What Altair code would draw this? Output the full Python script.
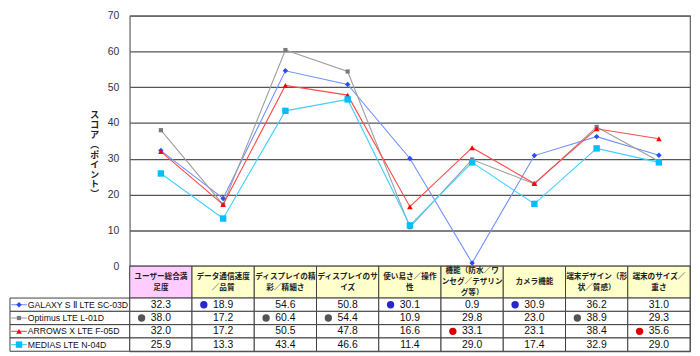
import altair as alt
import pandas as pd

# ---------------- data ----------------
categories = [
    "ユーザー総合満\n足度",
    "データ通信速度\n／品質",
    "ディスプレイの精\n彩／精細さ",
    "ディスプレイのサ\nイズ",
    "使い易さ／操作\n性",
    "機能（防水／ワ\nンセグ／テザリン\nグ等）",
    "カメラ機能",
    "端末デザイン（形\n状／質感）",
    "端末のサイズ／\n重さ",
]
series = ["GALAXY S Ⅱ LTE SC-03D", "Optimus LTE L-01D", "ARROWS X LTE F-05D", "MEDIAS LTE N-04D"]
galaxy = [32.3, 18.9, 54.6, 50.8, 30.1, 0.9, 30.9, 36.2, 31.0]
optimus = [38.0, 17.2, 60.4, 54.4, 10.9, 29.8, 23.0, 38.9, 29.3]
arrows = [32.0, 17.2, 50.5, 47.8, 16.6, 33.1, 23.1, 38.4, 35.6]
medias = [25.9, 13.3, 43.4, 46.6, 11.4, 29.0, 17.4, 32.9, 29.0]
values = [galaxy, optimus, arrows, medias]
# highlighted cells (series index, category index)
dot_series = [0, 0, 0, 1, 1, 1, 1, 2, 2]
dot_cats = [1, 4, 6, 0, 2, 3, 7, 5, 8]
y_ticks = [0, 10, 20, 30, 40, 50, 60, 70]
y_title = ["ス", "コ", "ア", "︵", "ポ", "イ", "ン", "ト", "︶"]

# ---------------- styles ----------------
line_colors = ["#7090FF", "#A0A0A0", "#FF4A4A", "#40CFFF"]
mark_colors = ["#2A4BFF", "#7A7A7A", "#FF0000", "#00BFFF"]
shapes = ["diamond", "square", "triangle-up", "square"]
sizes = [30, 18, 32, 42]
dot_colors = ["#2626CC", "#555555", "#D80000"]
header_fill = ["#FFCCFF"] + ["#FFFFCC"] * 8
JP = "Noto Sans CJK JP"
NUM = "Liberation Sans"

W = 566
TOP_H = 253
BOT_H = 86
HEAD = 2.4
ROW_PX = BOT_H / (HEAD + 4)
LEG_L = -1.924
HEAD_LH = 11.0  # header line height in px

xs = alt.Scale(domain=[0, 9], nice=False, zero=False)
ys_top = alt.Scale(domain=[0, 70], nice=False, zero=False)
ys_bot = alt.Scale(domain=[0, HEAD + 4], nice=False, zero=False, reverse=True)

rows = []
for s, name in enumerate(series):
    for i, v in enumerate(values[s]):
        rows.append({"series": name, "s": s, "i": i, "x": i + 0.5, "value": v,
                     "label": f"{v:.1f}", "ty": HEAD + s + 0.5,
                     "y0": HEAD + s, "y1": HEAD + s + 1, "x0": i, "x1": i + 1})
df = pd.DataFrame(rows)

# ---------------- top line chart ----------------
axis_y = alt.Axis(values=y_ticks, grid=True, gridColor="#555555", gridWidth=1.3,
                  domain=False, ticks=False, tickSize=0, labelPadding=11,
                  labelFont=NUM, labelFontSize=10.5, labelColor="#333333",
                  title=y_title, titleAngle=0, titleX=-36, titleY=96,
                  titleAlign="center", titleBaseline="top", titleFont=JP,
                  titleFontSize=9, titleFontWeight="bold", titleColor="#222222",
                  titleLineHeight=10)

base_top = alt.Chart(df).encode(
    x=alt.X("x:Q", scale=xs, axis=None),
    y=alt.Y("value:Q", scale=ys_top, axis=axis_y),
)
top_layers = []
for s, name in enumerate(series):
    b = base_top.transform_filter(alt.datum.s == s)
    top_layers.append(b.mark_line(color=line_colors[s], strokeWidth=1.1))
for s, name in enumerate(series):
    b = base_top.transform_filter(alt.datum.s == s)
    top_layers.append(b.mark_point(shape=shapes[s], filled=True, opacity=1,
                                   color=mark_colors[s], size=sizes[s]))
top = alt.layer(*top_layers).properties(width=W, height=TOP_H)

# ---------------- bottom table ----------------
n_lines = [c.count("\n") + 1 for c in categories]
head_df = pd.DataFrame({"i": list(range(9)), "x0": list(range(9)),
                        "x1": [i + 1 for i in range(9)], "xc": [i + 0.5 for i in range(9)],
                        "y0": [0] * 9, "y1": [HEAD] * 9,
                        "yc": [HEAD / 2 - (n - 1) / 2 * HEAD_LH / ROW_PX for n in n_lines],
                        "fill": header_fill, "text": categories})
leg_df = pd.DataFrame({"series": series, "s": list(range(4)),
                       "x0": [LEG_L] * 4, "x1": [0] * 4,
                       "la": [LEG_L + 0.02] * 4, "lb": [LEG_L + 0.27] * 4,
                       "lm": [LEG_L + 0.145] * 4, "lt": [LEG_L + 0.285] * 4,
                       "y0": [HEAD + s for s in range(4)], "y1": [HEAD + s + 1 for s in range(4)],
                       "yc": [HEAD + s + 0.5 for s in range(4)]})
dot_df = pd.DataFrame({"s": dot_series, "i": dot_cats,
                       "x": [c + 0.19 for c in dot_cats],
                       "y": [HEAD + s + 0.5 for s in dot_series],
                       "color": [dot_colors[s] for s in dot_series]})

header_rect = alt.Chart(head_df).mark_rect(stroke="#404040", strokeWidth=1).encode(
    x=alt.X("x0:Q", scale=xs, axis=None), x2="x1:Q",
    y=alt.Y("y0:Q", scale=ys_bot, axis=None), y2="y1:Q",
    fill=alt.Fill("fill:N", scale=None))
header_text = alt.Chart(head_df).mark_text(
    lineBreak="\n", font=JP, fontSize=7.7, fontWeight="bold", color="#222222",
    lineHeight=HEAD_LH, baseline="middle", align="center").encode(
    x=alt.X("xc:Q", scale=xs, axis=None), y=alt.Y("yc:Q", scale=ys_bot, axis=None),
    text="text:N")
cell_rect = alt.Chart(df).mark_rect(fill="white", stroke="#404040", strokeWidth=1).encode(
    x=alt.X("x0:Q", scale=xs, axis=None), x2="x1:Q",
    y=alt.Y("y0:Q", scale=ys_bot, axis=None), y2="y1:Q")
leg_rect = alt.Chart(leg_df).mark_rect(fill="white", stroke="#404040", strokeWidth=1).encode(
    x=alt.X("x0:Q", scale=xs, axis=None), x2="x1:Q",
    y=alt.Y("y0:Q", scale=ys_bot, axis=None), y2="y1:Q")
cell_text = alt.Chart(df).mark_text(font=NUM, fontSize=10.5, color="#111111",
                                     baseline="middle", align="center").encode(
    x=alt.X("x:Q", scale=xs, axis=None), y=alt.Y("ty:Q", scale=ys_bot, axis=None),
    text="label:N")
dots = alt.Chart(dot_df).mark_point(shape="circle", filled=True, opacity=1, size=55).encode(
    x=alt.X("x:Q", scale=xs, axis=None), y=alt.Y("y:Q", scale=ys_bot, axis=None),
    color=alt.Color("color:N", scale=None))

bottom_layers = [header_rect, header_text, leg_rect, cell_rect, cell_text, dots]
for s in range(4):
    ls = alt.Chart(leg_df).transform_filter(alt.datum.s == s)
    bottom_layers.append(ls.mark_rule(color=line_colors[s], strokeWidth=1.1).encode(
        x=alt.X("la:Q", scale=xs, axis=None), x2="lb:Q",
        y=alt.Y("yc:Q", scale=ys_bot, axis=None)))
    bottom_layers.append(ls.mark_point(shape=shapes[s], filled=True, opacity=1,
                                       color=mark_colors[s], size=sizes[s]).encode(
        x=alt.X("lm:Q", scale=xs, axis=None), y=alt.Y("yc:Q", scale=ys_bot, axis=None)))
bottom_layers.append(alt.Chart(leg_df).mark_text(
    font=NUM, fontSize=8.8, color="#111111", align="left", baseline="middle").encode(
    x=alt.X("lt:Q", scale=xs, axis=None), y=alt.Y("yc:Q", scale=ys_bot, axis=None),
    text="series:N"))
bottom = alt.layer(*bottom_layers).properties(width=W, height=BOT_H)

chart = alt.vconcat(top, bottom, spacing=0, bounds="flush").properties(
    padding={"left": 0, "top": 0, "right": 0, "bottom": 0},
    background="white",
).configure_view(stroke="#606060", strokeWidth=1.2)

chart.save("out.html", embed_options={"renderer": "svg", "actions": False})
